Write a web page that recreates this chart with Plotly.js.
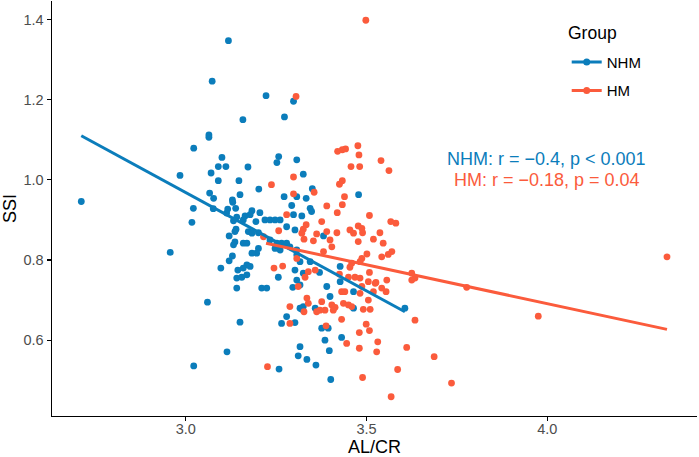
<!DOCTYPE html>
<html>
<head>
<meta charset="utf-8">
<script src="https://cdn.plot.ly/plotly-3.0.1.min.js"></script>
<style>html,body{margin:0;padding:0;background:#fff;}#chart{width:699px;height:457px;}</style>
</head>
<body>
<div id="chart"></div>
<script>
// NHM group (AL/CR, SSI)
const nhmX = [3.118,3.073,3.064,3.064,3.022,2.984,3.100,3.090,3.111,3.070,3.090,3.147,2.711,3.066,3.077,3.021,3.076,3.130,3.138,3.116,3.017,3.113,3.150,
2.957,3.120,3.139,3.136,3.129,3.120,3.097,3.144,3.141,3.060,3.150,3.114,3.022,
3.222,3.298,3.273,3.158,3.172,3.257,3.252,3.307,3.202,3.272,3.307,3.129,
3.183,3.178,3.205,3.164,3.141,3.132,3.159,3.194,3.219,3.233,3.247,3.261,3.293,3.298,3.279,3.302,3.136,3.173,3.183,3.201,3.132,3.159,3.169,3.233,3.252,3.265,3.279,3.288,3.247,3.261,3.307,3.201,3.196,3.183,3.169,3.159,3.141,3.155,3.169,3.178,3.256,3.302,3.307,3.210,3.224,
3.296,3.279,3.265,3.302,3.316,3.258,3.311,
3.325,3.350,3.333,3.478,
3.344,3.348,3.321,3.381,3.307,3.316,3.344,3.370,3.325,3.427,3.427,3.316,3.390,
3.464,3.399,3.464,3.325,3.321,3.358,3.606,3.376,3.394,3.385,3.431,3.316,3.397,3.335,3.360,3.401];
const nhmY = [1.347,1.246,1.112,1.106,1.079,1.011,1.056,1.033,1.033,1.017,0.998,0.998,0.946,0.967,0.954,0.929,0.928,0.944,0.929,0.927,0.894,0.917,0.963,
0.819,0.860,0.877,0.845,0.810,0.798,0.780,0.775,0.730,0.695,0.645,0.571,0.536,
1.210,1.196,1.157,1.150,1.032,1.058,1.043,1.050,0.977,0.958,0.958,0.950,
0.923,0.913,0.918,0.910,0.907,0.898,0.900,0.896,0.900,0.900,0.900,0.900,0.936,0.913,0.883,0.875,0.871,0.871,0.867,0.868,0.838,0.842,0.842,0.850,0.842,0.842,0.842,0.833,0.829,0.825,0.825,0.829,0.817,0.817,0.788,0.780,0.755,0.757,0.763,0.784,0.757,0.775,0.750,0.730,0.730,
0.732,0.659,0.642,0.644,0.680,0.528,0.561,
1.014,0.978,0.954,0.963,
0.929,0.921,0.910,0.860,0.813,0.796,0.796,0.769,0.767,0.784,0.746,0.738,0.734,
0.721,0.709,0.680,0.684,0.677,0.680,0.680,0.630,0.630,0.600,0.607,0.584,0.574,0.552,0.538,0.502];

// HM group (AL/CR, SSI)
const hmX = [3.305,3.237,3.298,3.298,3.279,3.257,3.215,3.307,3.244,3.268,3.311,3.288,3.226,
3.476,3.442,3.433,3.420,3.479,3.540,3.562,3.457,3.481,3.433,3.425,3.355,3.439,
3.390,3.433,3.419,3.508,3.567,3.581,3.376,3.333,3.477,3.487,3.489,3.454,3.464,3.418,3.537,3.362,3.390,3.325,3.321,3.327,3.353,3.399,3.477,3.519,3.546,3.404,3.381,3.570,3.560,3.542,3.501,3.487,3.482,3.459,3.454,3.358,3.339,3.330,3.425,3.508,3.450,3.468,3.482,3.526,3.556,3.625,3.634,3.625,
3.431,3.440,3.482,3.487,3.505,3.524,3.519,3.542,3.554,3.335,3.339,3.376,3.385,3.371,3.362,3.404,3.413,3.408,3.436,3.450,3.459,3.505,3.491,3.510,3.327,3.288,3.634,3.431,3.388,3.499,3.508,3.480,3.445,3.531,3.480,3.528,3.611,3.586,3.489,
4.331,3.777,3.975,3.687,3.735,3.498,3.568];
const hmY = [1.208,0.988,1.007,0.965,0.913,0.873,0.858,0.804,0.780,0.785,0.734,0.642,0.534,
1.085,1.077,1.075,1.071,1.062,1.048,1.023,1.033,1.033,0.998,0.989,0.969,0.958,
0.935,0.938,0.918,0.911,0.896,0.892,0.896,0.888,0.885,0.879,0.868,0.875,0.867,0.868,0.868,0.865,0.871,0.877,0.867,0.852,0.848,0.850,0.846,0.852,0.842,0.833,0.821,0.821,0.814,0.808,0.815,0.804,0.796,0.792,0.782,0.775,0.771,0.757,0.765,0.769,0.757,0.757,0.755,0.744,0.750,0.767,0.755,0.750,
0.721,0.721,0.717,0.734,0.746,0.742,0.721,0.730,0.721,0.705,0.692,0.696,0.675,0.675,0.671,0.688,0.682,0.675,0.692,0.688,0.684,0.700,0.677,0.677,0.671,0.684,0.650,0.652,0.636,0.640,0.624,0.619,0.592,0.596,0.580,0.571,0.582,0.527,0.507,
0.808,0.732,0.660,0.559,0.493,1.398,0.459];

// Fitted regression lines (end points)
const nhmFitX = [2.711, 3.606];
const nhmFitY = [1.110, 0.671];
const hmFitX = [3.222, 4.331];
const hmFitY = [0.842, 0.627];

const groups = ['NHM', 'HM'];
const legendTitle = 'Group';
const xTitle = 'AL/CR';
const yTitle = 'SSI';
const statLabels = ['NHM: r = \u22120.4, p < 0.001', 'HM: r = \u22120.18, p = 0.04'];
const xTicks = [3.0, 3.5, 4.0];
const xTickText = ['3.0', '3.5', '4.0'];
const yTicks = [0.6, 0.8, 1.0, 1.2, 1.4];
const yTickText = ['0.6', '0.8', '1.0', '1.2', '1.4'];

const BLUE = '#0b7dbb';
const RED = '#fb5b3c';
const FONT = 'Liberation Sans, Arial, sans-serif';

const traces = [
  {x: nhmX, y: nhmY, type: 'scatter', mode: 'markers', showlegend: false,
   marker: {color: BLUE, size: 6.8}, hoverinfo: 'skip'},
  {x: hmX, y: hmY, type: 'scatter', mode: 'markers', showlegend: false,
   marker: {color: RED, size: 6.8}, hoverinfo: 'skip'},
  {x: nhmFitX, y: nhmFitY, type: 'scatter', mode: 'lines', showlegend: false,
   line: {color: BLUE, width: 3}},
  {x: hmFitX, y: hmFitY, type: 'scatter', mode: 'lines', showlegend: false,
   line: {color: RED, width: 3}},
  {x: [null], y: [null], type: 'scatter', mode: 'lines+markers', name: groups[0], legendgroup: 'a',
   line: {color: BLUE, width: 3}, marker: {color: BLUE, size: 7}},
  {x: [null], y: [null], type: 'scatter', mode: 'lines+markers', name: groups[1], legendgroup: 'b',
   line: {color: RED, width: 3}, marker: {color: RED, size: 7}}
];

const axisCommon = {
  showgrid: false, zeroline: false, showline: true, linecolor: '#000', linewidth: 1.4,
  ticks: 'outside', ticklen: 4, tickwidth: 1.3, tickcolor: '#000',
  tickfont: {family: FONT, size: 14.5, color: '#4d4d4d'}
};

const layout = {
  width: 699, height: 457,
  margin: {l: 52, r: 2, t: 1, b: 41},
  paper_bgcolor: '#fff', plot_bgcolor: '#fff',
  font: {family: FONT},
  xaxis: Object.assign({}, axisCommon, {
    range: [2.630, 4.414], tickvals: xTicks, ticktext: xTickText, ticklabelstandoff: -5
  }),
  yaxis: Object.assign({}, axisCommon, {
    range: [0.411, 1.446], tickvals: yTicks, ticktext: yTickText,
    title: {text: yTitle, font: {family: FONT, size: 18, color: '#000'}, standoff: 6}
  }),
  legend: {
    x: 0.798, xanchor: 'left', y: 0.892, yanchor: 'top',
    bgcolor: 'rgba(0,0,0,0)',
    font: {family: FONT, size: 15, color: '#000'},
    tracegroupgap: 6, traceorder: 'grouped'
  },
  annotations: [
    {xref: 'paper', yref: 'paper', x: 0.5, y: -(458.6 - 416) / 415,
     text: xTitle, showarrow: false, xanchor: 'center', yanchor: 'bottom',
     font: {family: FONT, size: 18, color: '#000'}},
    {xref: 'paper', yref: 'paper', x: (566 - 52) / 645, y: 1 - (33 - 1) / 415,
     text: legendTitle, showarrow: false, xanchor: 'left', yanchor: 'middle',
     font: {family: FONT, size: 17.5, color: '#000'}},
    {xref: 'paper', yref: 'paper', x: (546.7 - 52) / 645, y: 1 - (159.3 - 1) / 415,
     text: statLabels[0], showarrow: false, xanchor: 'center', yanchor: 'middle',
     font: {family: FONT, size: 18, color: BLUE}},
    {xref: 'paper', yref: 'paper', x: (546.7 - 52) / 645, y: 1 - (180 - 1) / 415,
     text: statLabels[1], showarrow: false, xanchor: 'center', yanchor: 'middle',
     font: {family: FONT, size: 18, color: RED}}
  ]
};

Plotly.newPlot('chart', traces, layout, {staticPlot: true, displayModeBar: false});
</script>
</body>
</html>
